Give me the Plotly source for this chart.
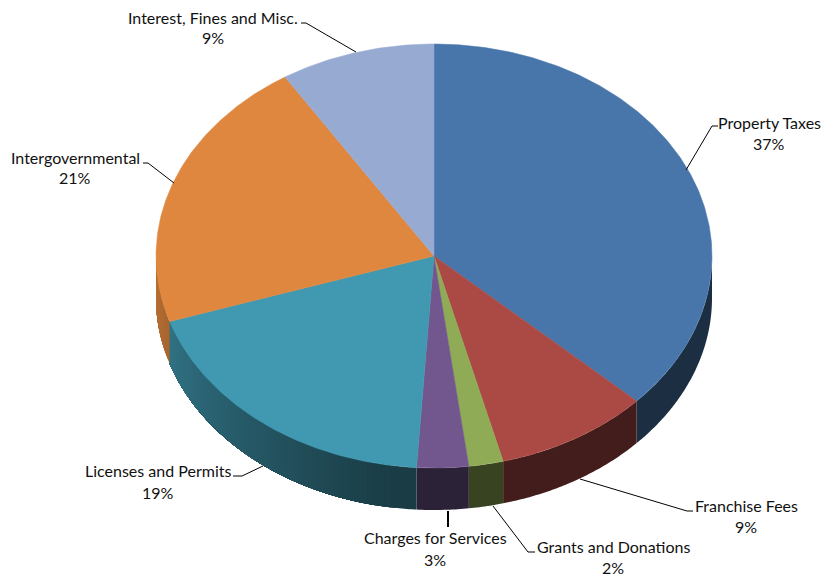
import numpy as np
import plotly.graph_objects as go

# Revenue shares, clockwise from twelve o'clock
categories = ["Property Taxes", "Franchise Fees", "Grants and Donations", "Charges for Services",
              "Licenses and Permits", "Intergovernmental", "Interest, Fines and Misc."]
shares = [37, 9, 2, 3, 19, 21, 9]
top_colors = ["#4876AA", "#AB4A44", "#8FAB55", "#72578F", "#4199B1", "#DF873E", "#97ABD2"]

# Pie geometry in page pixels
CX, CY, RX, RY, DEPTH = 434, 256, 278, 212, 42
LABEL_FONT = dict(family="Lato", size=16, color="#111111")

# Label anchors: centre x, y of name line, y of percent line, leader path
label_layout = {
    "Property Taxes": (769, 122, 143, [(686, 170), (712, 126), (718, 126)], 1),
    "Franchise Fees": (746, 505, 526, [(580, 479), (687, 511), (693, 511)], 1),
    "Grants and Donations": (613, 546, 567, [(493, 506), (528, 552), (535, 552)], 1),
    "Charges for Services": (435, 537, 559, [(448, 511), (448, 527)], 2),
    "Licenses and Permits": (158, 470, 492, [(263, 466), (242, 476), (233, 476)], 1),
    "Intergovernmental": (75, 157, 177, [(174, 183), (148, 163), (143, 163)], 1),
    "Interest, Fines and Misc.": (213, 17, 37, [(356, 52), (306, 23), (301, 23)], 1),
}


def rim(deg, drop=0.0):
    """Point(s) on the pie edge; angle runs clockwise from the top."""
    t = np.radians(deg)
    return CX + RX * np.sin(t), CY - RY * np.cos(t) + drop


def shade(hex_color, factor):
    r, g, b = (int(hex_color[i:i + 2], 16) for i in (1, 3, 5))
    return f"rgb({r * factor:.0f},{g * factor:.0f},{b * factor:.0f})"


def wall_factor(deg):
    # Side wall stays dark at the front and right, and lightens toward the left
    return float(np.interp(deg, [0, 188, 262, 270], [0.39, 0.39, 0.80, 0.84]))


fig = go.Figure()
common = dict(mode="none", fill="toself", hoverinfo="skip", showlegend=False)


def add_wall(a, b, color):
    arc = np.linspace(a, b, max(int(b - a) * 2, 4))
    x0, y0 = rim(arc)
    x1, y1 = rim(arc[::-1], DEPTH)
    fig.add_trace(go.Scatter(x=np.r_[x0, x1], y=np.r_[y0, y1], fillcolor=color, **common))


edges = np.cumsum([0] + shares) / sum(shares) * 360

# Side wall: only the front half of the rim shows. The dark stretch is one flat
# piece; the lighter stretch is narrow bands, each reaching to the slice's far
# end so the next band paints over it without a seam.
for start, end, color in zip(edges[:-1], edges[1:], top_colors):
    lo, hi = max(start, 90), min(end, 270)
    if hi <= lo:
        continue
    flat_end = min(hi, max(lo, 188))
    if flat_end > lo:
        add_wall(lo, hi, shade(color, wall_factor(lo)))
    for a in np.arange(flat_end, hi, 1.0):
        add_wall(a, hi, shade(color, wall_factor(a + 0.5)))

# Top face of each slice
for start, end, color, name in zip(edges[:-1], edges[1:], top_colors, categories):
    arc = np.linspace(start, end, max(int(end - start) * 2, 8))
    x, y = rim(arc)
    fig.add_trace(go.Scatter(x=np.r_[CX, x, CX], y=np.r_[CY, y, CY], fillcolor=color, name=name,
                             mode="lines", fill="toself", hoverinfo="skip", showlegend=False,
                             line=dict(color=color, width=0.5)))

# Labels and leader lines
annotations = []
for name, share in zip(categories, shares):
    cx, y_name, y_pct, path, width = label_layout[name]
    px, py = zip(*path)
    fig.add_trace(go.Scatter(x=px, y=py, mode="lines", hoverinfo="skip", showlegend=False,
                             line=dict(color="#000000", width=width)))
    for text, y in ((name, y_name), (f"{share}%", y_pct)):
        annotations.append(dict(x=cx, y=y, text=text, showarrow=False, xanchor="center",
                                yanchor="middle", font=LABEL_FONT))

fig.update_layout(
    width=822, height=578, margin=dict(l=0, r=0, t=0, b=0),
    paper_bgcolor="white", plot_bgcolor="white", showlegend=False,
    xaxis=dict(range=[0, 822], visible=False, fixedrange=True),
    yaxis=dict(range=[578, 0], visible=False, fixedrange=True),
    annotations=annotations,
)

fig.write_html("out.html", config={"displayModeBar": False})
